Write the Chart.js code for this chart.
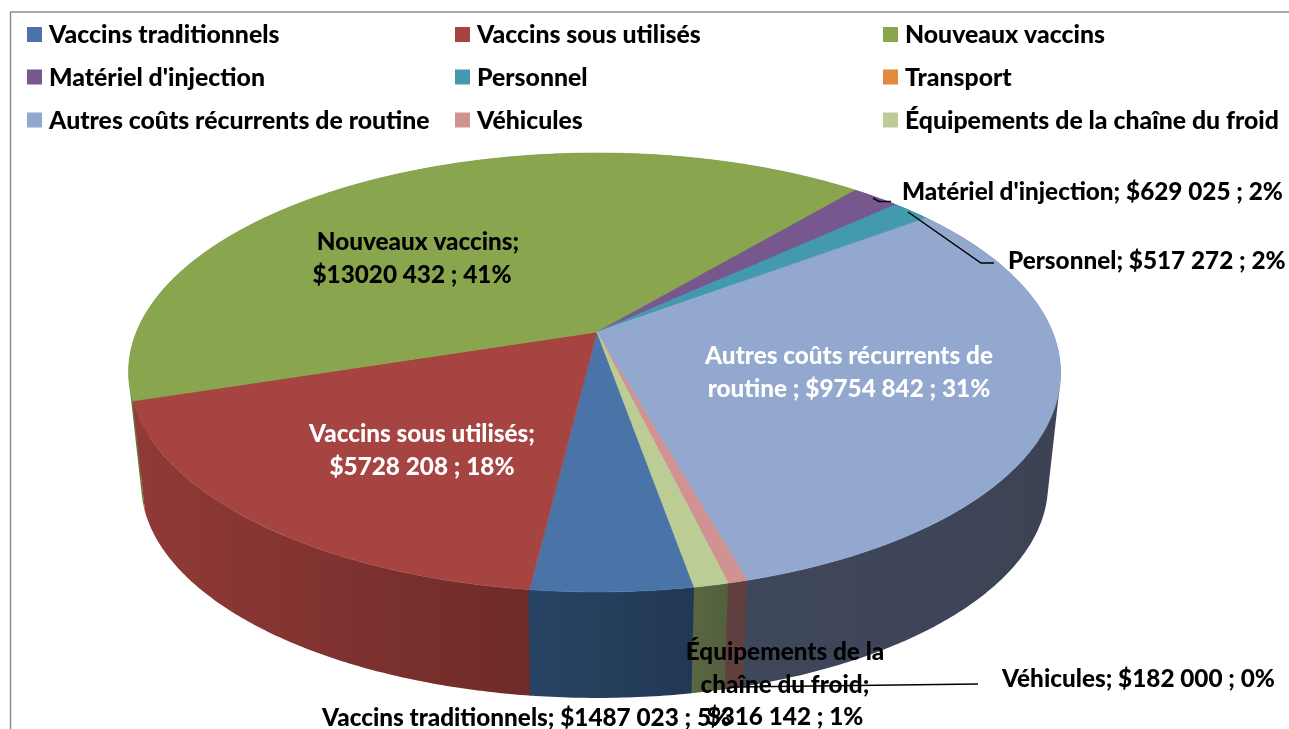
<!DOCTYPE html>
<html><head><meta charset="utf-8">
<style>html,body{margin:0;padding:0;background:#fff;overflow:hidden}canvas{display:block}</style>
<script src="https://cdn.jsdelivr.net/npm/chart.js@4"></script>
</head><body><canvas id="c" width="1289" height="729"></canvas>
<script>
const categories = ["Vaccins traditionnels","Vaccins sous utilisés","Nouveaux vaccins","Matériel d'injection","Personnel","Transport","Autres coûts récurrents de routine","Véhicules","Équipements de la chaîne du froid"];
const costs = [1487023,5728208,13020432,629025,517272,0,9754842,182000,316142];
const topColors = ["#4a74a8","#a64442","#89a54e","#76588f","#4399ae","#e08b3e","#93a8cf","#d09392","#bbcd94"];
const wallColors = [["#284464","#213854"],["#913a37","#6e2b28"],["#66793a","#66793a"],["#463454","#463454"],["#285c68","#285c68"],["#8a5526","#8a5526"],["#3f475b","#3d4355"],["#5f403e","#5f403e"],["#5a6742","#535f3d"]];
const dataLabels = [
 {t:"Nouveaux vaccins;",x:418,y:242,a:"center",c:"#000"},
 {t:"$13020 432 ; 41%",x:412,y:275,a:"center",c:"#000"},
 {t:"Vaccins sous utilisés;",x:422,y:434,a:"center",c:"#fff"},
 {t:"$5728 208 ; 18%",x:422,y:467,a:"center",c:"#fff"},
 {t:"Autres coûts récurrents de",x:849,y:356,a:"center",c:"#fff"},
 {t:"routine ; $9754 842 ; 31%",x:849,y:389,a:"center",c:"#fff"},
 {t:"Matériel d'injection; $629 025 ; 2%",x:902,y:192,a:"left",c:"#000"},
 {t:"Personnel; $517 272 ; 2%",x:1008,y:261,a:"left",c:"#000"},
 {t:"Véhicules; $182 000 ; 0%",x:1002,y:679,a:"left",c:"#000"},
 {t:"Équipements de la",x:785,y:652,a:"center",c:"#000"},
 {t:"chaîne du froid;",x:785,y:685,a:"center",c:"#000"},
 {t:"$316 142 ; 1%",x:785,y:717,a:"center",c:"#000"},
 {t:"Vaccins traditionnels; $1487 023 ; 5%",x:322,y:718,a:"left",c:"#000"}
];
const leaders = [[[873,198],[879,201.5],[891,201.5]],[[908,212],[981,263],[994,263]],[[735,687],[978,684]]];
const FONT = '900 24.8px Lato';
const LABEL_FONT = '900 24.3px Lato';
const geo = {apexX:597,cx:594.5,cxBow:2.5,cyTop:332,cyBot:445,a:458,b:212,k:-0.1845,sBot:0.973};
function proj(th,bottom){
  const u=Math.cos(th),v=Math.sin(th),w=1+geo.k*v,s=bottom?geo.sBot:1,cy=bottom?geo.cyBot:geo.cyTop;
  return [geo.cx+geo.cxBow*v*v+geo.a*s*u/w,cy+geo.b*s*v/w];
}
function arcPts(s,e,bottom){
  const n=Math.max(2,Math.ceil((e-s)/0.01)),p=[];
  for(let i=0;i<=n;i++)p.push(proj(s+(e-s)*i/n,bottom));
  return p;
}
function path(ctx,p){ctx.beginPath();p.forEach((q,i)=>i?ctx.lineTo(q[0],q[1]):ctx.moveTo(q[0],q[1]));ctx.closePath();}
function quadArea(q){let a=0;q.forEach((p,i)=>{const r=q[(i+1)%q.length];a+=p[0]*r[1]-r[0]*p[1];});return a;}
const pie3d={id:'pie3d',
 beforeDraw(chart){
  const ctx=chart.ctx;ctx.save();ctx.strokeStyle='#8c8c8c';ctx.lineWidth=1.5;
  ctx.beginPath();ctx.moveTo(10.5,729);ctx.lineTo(10.5,12);ctx.lineTo(1289,12);ctx.stroke();
  ctx.font=FONT;ctx.textBaseline='middle';ctx.textAlign='left';
  const colsM=[27,455,883],colsT=[49,477,905],rows=[34.5,77,120];
  categories.forEach((c,i)=>{const col=i%3,row=Math.floor(i/3);
    ctx.fillStyle=topColors[i];ctx.fillRect(colsM[col],rows[row]-7.5,15,15);
    ctx.fillStyle='#000';ctx.fillText(c,colsT[col],rows[row]+1);});
  ctx.restore();
 },
 beforeDatasetsDraw(chart){
  const ctx=chart.ctx,arcs=chart.getDatasetMeta(0).data;
  const idx=arcs.map((_,i)=>i).filter(i=>arcs[i].endAngle>arcs[i].startAngle+1e-6);
  ctx.save();
  const order=idx.slice().sort((i,j)=>Math.sin((arcs[i].startAngle+arcs[i].endAngle)/2)-Math.sin((arcs[j].startAngle+arcs[j].endAngle)/2));
  order.forEach(i=>{
    const s=arcs[i].startAngle,e=arcs[i].endAngle+0.002;
    const top=arcPts(s,e,false),bot=arcPts(s,e,true);
    const xs=top.concat(bot).map(p=>p[0]),x0=Math.min(...xs),x1=Math.max(...xs);
    const g=ctx.createLinearGradient(x0,0,x1,0);
    g.addColorStop(0,wallColors[i][0]);g.addColorStop(1,wallColors[i][1]);
    ctx.fillStyle=g;
    ctx.beginPath();
    for(let q=0;q<top.length-1;q++){
      let quad=[top[q],top[q+1],bot[q+1],bot[q]];
      if(quadArea(quad)<0)quad=quad.reverse();
      quad.forEach((p,n)=>n?ctx.lineTo(p[0],p[1]):ctx.moveTo(p[0],p[1]));
      ctx.closePath();
    }
    ctx.fill('nonzero');
  });
  idx.forEach(i=>{
    const a=arcs[i],poly=[[geo.apexX,geo.cyTop]].concat(arcPts(a.startAngle,a.endAngle,false));
    path(ctx,poly);ctx.fillStyle=a.options.backgroundColor;ctx.strokeStyle=a.options.backgroundColor;ctx.lineWidth=.6;ctx.fill();ctx.stroke();
  });
  ctx.restore();
  return false;
 },
 afterDraw(chart){
  const ctx=chart.ctx;ctx.save();
  ctx.strokeStyle='#000';ctx.lineWidth=1.5;
  leaders.forEach(l=>{ctx.beginPath();l.forEach((p,i)=>i?ctx.lineTo(p[0],p[1]):ctx.moveTo(p[0],p[1]));ctx.stroke();});
  ctx.font=LABEL_FONT;ctx.textBaseline='middle';
  dataLabels.forEach(d=>{ctx.textAlign=d.a;ctx.fillStyle=d.c;ctx.fillText(d.t,d.x,d.y);});
  ctx.restore();
 }
};
new Chart(document.getElementById('c'),{
  type:'pie',
  data:{labels:categories,datasets:[{data:costs,backgroundColor:topColors,borderWidth:0}]},
  options:{responsive:false,animation:false,rotation:170,
    plugins:{legend:{display:false},tooltip:{enabled:false}},events:[]},
  plugins:[pie3d]
});
</script></body></html>
